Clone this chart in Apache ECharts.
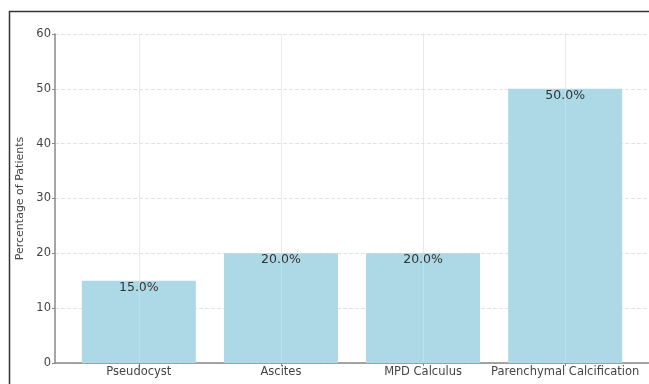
<!DOCTYPE html>
<html lang="en">
<head>
    <meta charset="utf-8">
    <title>Complications</title>
    <script src="https://cdn.jsdelivr.net/npm/echarts@6/dist/echarts.min.js"></script>
    <style>
        html, body { margin: 0; padding: 0; background: #fff; }
        #main { width: 649px; height: 384px; }
    </style>
</head>
<body>
<div id="main"></div>
<script type="text/javascript">
    // 数据
    var categories = ['Pseudocyst', 'Ascites', 'MPD Calculus', 'Parenchymal Calcification'];
    var percentages = [15.0, 20.0, 20.0, 50.0];
    var yTicks = [0, 10, 20, 30, 40, 50, 60];

    var positions = categories.map(function (c, i) { return i; });
    var barData = percentages.map(function (v, i) { return [i, v]; });

    var chart = echarts.init(document.getElementById('main'), null, {renderer: 'canvas'});

    var option = {
        animation: false,
        textStyle: { fontFamily: 'DejaVu Sans' },
        grid: { left: 55, right: 0, top: 34, bottom: 21, containLabel: false },
        graphic: [
            // 外框
            {
                type: 'polyline',
                shape: { points: [[9.5, 384], [9.5, 11.5], [660, 11.5]] },
                style: { stroke: '#333', lineWidth: 1.5, fill: null },
                silent: true
            }
        ],
        xAxis: {
            type: 'value',
            min: -0.59,
            max: 3.59,
            axisLine: { show: true, onZero: false, lineStyle: { color: '#888', width: 1.5 } },
            axisTick: { show: true, customValues: positions, length: 3, lineStyle: { color: '#888' } },
            axisLabel: {
                customValues: positions,
                color: '#444',
                fontSize: 11.5,
                margin: 3,
                formatter: function (v) { return categories[Math.round(v)]; }
            },
            splitLine: { show: false }
        },
        yAxis: {
            type: 'value',
            min: yTicks[0],
            max: yTicks[yTicks.length - 1],
            interval: 10,
            name: 'Percentage of Patients',
            nameLocation: 'middle',
            nameGap: 28,
            nameTextStyle: { color: '#444', fontSize: 11 },
            axisLine: { show: true, onZero: false, lineStyle: { color: '#888', width: 1.5 } },
            axisTick: { show: true, length: 3, lineStyle: { color: '#888' } },
            axisLabel: { color: '#444', fontSize: 11.5, margin: 4 },
            splitLine: { show: true, lineStyle: { color: '#e2e2e2', type: 'dashed', width: 1 } }
        },
        series: [
            {
                type: 'bar',
                data: barData,
                barWidth: 114,
                itemStyle: { color: '#ADD8E6' },
                label: {
                    show: true,
                    position: 'insideTop',
                    distance: 0,
                    color: '#333',
                    fontSize: 12.5,
                    formatter: function (p) { return p.value[1].toFixed(1) + '%'; }
                },
                markLine: {
                    silent: true,
                    symbol: 'none',
                    label: { show: false },
                    lineStyle: { color: '#dcdcdc', type: 'solid', width: 1, opacity: 0.6 },
                    data: positions.map(function (p) { return { xAxis: p }; })
                },
                z: 2
            }
        ]
    };
    chart.setOption(option);
</script>
</body>
</html>
